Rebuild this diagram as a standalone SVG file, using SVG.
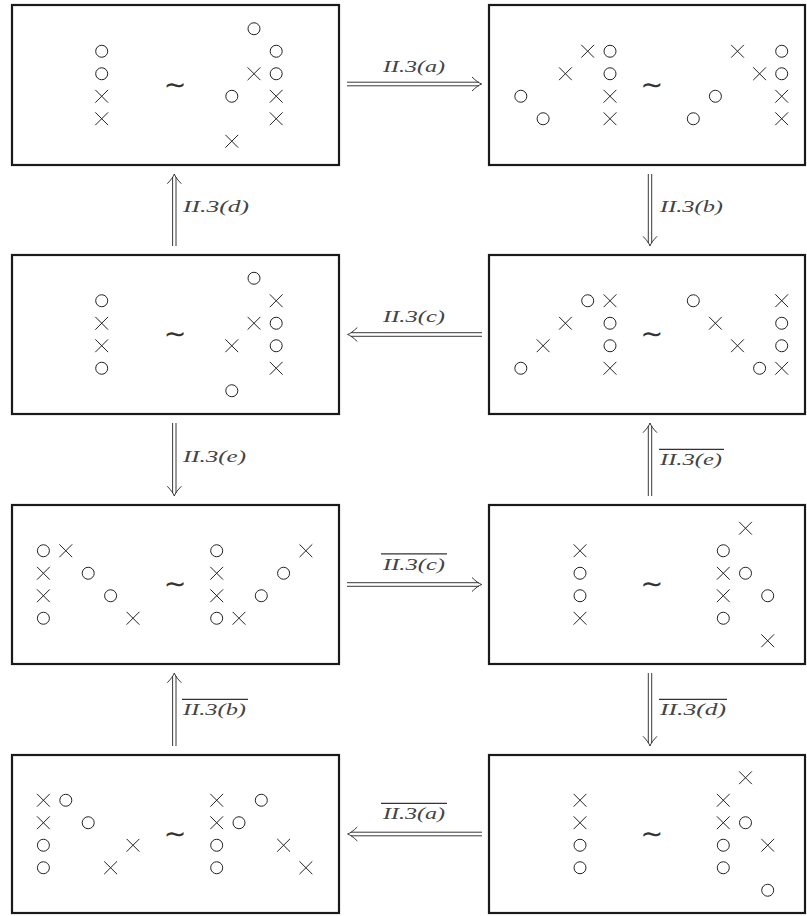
<svg xmlns="http://www.w3.org/2000/svg" xmlns:xlink="http://www.w3.org/1999/xlink" width="807" height="916" viewBox="0 0 807 916">
<style>
.box{fill:#fff;stroke:#1a1a1a;stroke-width:2.2}
.sym{fill:none;stroke:#222;stroke-width:1}
.tl{font-family:"DejaVu Sans",sans-serif;font-size:27px;fill:#333;text-anchor:middle}
.lb{font-family:"Liberation Serif",serif;font-style:italic;font-size:16px;fill:#444}
.ln{fill:none;stroke:#222;stroke-width:0.9}
.ov{stroke:#333;stroke-width:1.2}
</style>
<defs>
<circle id="o" class="sym" r="6"/>
<path id="x" class="sym" d="M-6.4-6.4L6.4 6.4M-6.4 6.4L6.4-6.4"/>
</defs>
<rect width="807" height="916" fill="#fff"/>

<g id="box1">
<rect class="box" x="12" y="5" width="327" height="160"/>
<use href="#o" x="101.7" y="51.25"/><use href="#o" x="101.7" y="73.75"/><use href="#x" x="101.7" y="96.25"/><use href="#x" x="101.7" y="118.75"/>
<text class="tl" x="175" y="93.6">∼</text>
<use href="#o" x="254" y="28.75"/><use href="#o" x="276.2" y="51.25"/><use href="#x" x="254" y="73.75"/><use href="#o" x="276.2" y="73.75"/>
<use href="#o" x="231.8" y="96.25"/><use href="#x" x="276.2" y="96.25"/><use href="#x" x="276.2" y="118.75"/><use href="#x" x="231.8" y="141.25"/>
</g>

<g id="box2">
<rect class="box" x="489" y="5" width="316" height="160"/>
<use href="#x" x="587.7" y="51.25"/><use href="#o" x="610" y="51.25"/><use href="#x" x="565.4" y="73.75"/><use href="#o" x="610" y="73.75"/>
<use href="#o" x="520.8" y="96.25"/><use href="#x" x="610" y="96.25"/><use href="#o" x="543.1" y="118.75"/><use href="#x" x="610" y="118.75"/>
<text class="tl" x="651.7" y="93.6">∼</text>
<use href="#x" x="737.5" y="51.25"/><use href="#o" x="781.7" y="51.25"/><use href="#x" x="759.6" y="73.75"/><use href="#o" x="781.7" y="73.75"/>
<use href="#o" x="715.4" y="96.25"/><use href="#x" x="781.7" y="96.25"/><use href="#o" x="693.3" y="118.75"/><use href="#x" x="781.7" y="118.75"/>
</g>

<g id="box3">
<rect class="box" x="12" y="255" width="327" height="159"/>
<use href="#o" x="101.7" y="300.75"/><use href="#x" x="101.7" y="323.25"/><use href="#x" x="101.7" y="345.75"/><use href="#o" x="101.7" y="368.25"/>
<text class="tl" x="175" y="343.1">∼</text>
<use href="#o" x="254" y="278.25"/><use href="#x" x="276.2" y="300.75"/><use href="#x" x="254" y="323.25"/><use href="#o" x="276.2" y="323.25"/>
<use href="#x" x="231.8" y="345.75"/><use href="#o" x="276.2" y="345.75"/><use href="#x" x="276.2" y="368.25"/><use href="#o" x="231.8" y="390.75"/>
</g>

<g id="box4">
<rect class="box" x="489" y="255" width="316" height="159"/>
<use href="#o" x="587.7" y="300.75"/><use href="#x" x="610" y="300.75"/><use href="#x" x="565.4" y="323.25"/><use href="#o" x="610" y="323.25"/>
<use href="#x" x="543.1" y="345.75"/><use href="#o" x="610" y="345.75"/><use href="#o" x="520.8" y="368.25"/><use href="#x" x="610" y="368.25"/>
<text class="tl" x="651.7" y="343.1">∼</text>
<use href="#o" x="693.3" y="300.75"/><use href="#x" x="781.7" y="300.75"/><use href="#x" x="715.4" y="323.25"/><use href="#o" x="781.7" y="323.25"/>
<use href="#x" x="737.5" y="345.75"/><use href="#o" x="781.7" y="345.75"/><use href="#o" x="759.6" y="368.25"/><use href="#x" x="781.7" y="368.25"/>
</g>

<g id="box5">
<rect class="box" x="12" y="505" width="327" height="159"/>
<use href="#o" x="43.4" y="550.75"/><use href="#x" x="65.8" y="550.75"/><use href="#x" x="43.4" y="573.25"/><use href="#o" x="88.2" y="573.25"/>
<use href="#x" x="43.4" y="595.75"/><use href="#o" x="110.6" y="595.75"/><use href="#o" x="43.4" y="618.25"/><use href="#x" x="133" y="618.25"/>
<text class="tl" x="175" y="593.1">∼</text>
<use href="#o" x="216.7" y="550.75"/><use href="#x" x="305.9" y="550.75"/><use href="#x" x="216.7" y="573.25"/><use href="#o" x="283.6" y="573.25"/>
<use href="#x" x="216.7" y="595.75"/><use href="#o" x="261.3" y="595.75"/><use href="#o" x="216.7" y="618.25"/><use href="#x" x="239" y="618.25"/>
</g>

<g id="box6">
<rect class="box" x="489" y="505" width="316" height="159"/>
<use href="#x" x="580" y="550.75"/><use href="#o" x="580" y="573.25"/><use href="#o" x="580" y="595.75"/><use href="#x" x="580" y="618.25"/>
<text class="tl" x="651.7" y="593.1">∼</text>
<use href="#x" x="745.5" y="528.25"/><use href="#o" x="723.3" y="550.75"/><use href="#x" x="723.3" y="573.25"/><use href="#o" x="745.5" y="573.25"/>
<use href="#x" x="723.3" y="595.75"/><use href="#o" x="767.7" y="595.75"/><use href="#o" x="723.3" y="618.25"/><use href="#x" x="767.7" y="640.75"/>
</g>

<g id="box7">
<rect class="box" x="12" y="755" width="327" height="158"/>
<use href="#x" x="43.4" y="800.25"/><use href="#o" x="65.8" y="800.25"/><use href="#x" x="43.4" y="822.75"/><use href="#o" x="88.2" y="822.75"/>
<use href="#o" x="43.4" y="845.25"/><use href="#x" x="133" y="845.25"/><use href="#o" x="43.4" y="867.75"/><use href="#x" x="110.6" y="867.75"/>
<text class="tl" x="175" y="842.6">∼</text>
<use href="#x" x="216.7" y="800.25"/><use href="#o" x="261.3" y="800.25"/><use href="#x" x="216.7" y="822.75"/><use href="#o" x="239" y="822.75"/>
<use href="#o" x="216.7" y="845.25"/><use href="#x" x="283.6" y="845.25"/><use href="#o" x="216.7" y="867.75"/><use href="#x" x="305.9" y="867.75"/>
</g>

<g id="box8">
<rect class="box" x="489" y="755" width="316" height="158"/>
<use href="#x" x="580" y="800.25"/><use href="#x" x="580" y="822.75"/><use href="#o" x="580" y="845.25"/><use href="#o" x="580" y="867.75"/>
<text class="tl" x="651.7" y="842.6">∼</text>
<use href="#x" x="745.5" y="777.75"/><use href="#x" x="723.3" y="800.25"/><use href="#x" x="723.3" y="822.75"/><use href="#o" x="745.5" y="822.75"/>
<use href="#o" x="723.3" y="845.25"/><use href="#x" x="767.7" y="845.25"/><use href="#o" x="723.3" y="867.75"/><use href="#o" x="767.7" y="890.25"/>
</g>

<g id="connectors">
<path class="ln" d="M347 82.2H479M347 85.8H479M472 77Q478 82.8 481.7 84Q478 85.2 472 91"/>
<text class="lb" x="383" y="72" textLength="62" lengthAdjust="spacingAndGlyphs">II.3(a)</text>
<path class="ln" d="M351 332.7H482M351 336.3H482M357.3 327.5Q351.3 333.3 347.6 334.5Q351.3 335.7 357.3 341.5"/>
<text class="lb" x="383" y="322" textLength="62" lengthAdjust="spacingAndGlyphs">II.3(c)</text>
<path class="ln" d="M347 582.7H479M347 586.3H479M472 577.5Q478 583.3 481.7 584.5Q478 585.7 472 591.5"/>
<line class="ov" x1="381" y1="553.8" x2="447" y2="553.8"/>
<text class="lb" x="383" y="569.8" textLength="62" lengthAdjust="spacingAndGlyphs">II.3(c)</text>
<path class="ln" d="M351 832.2H482M351 835.8H482M357.3 827Q351.3 832.8 347.6 834Q351.3 835.2 357.3 841"/>
<line class="ov" x1="381" y1="803.3" x2="447" y2="803.3"/>
<text class="lb" x="383" y="819.3" textLength="62" lengthAdjust="spacingAndGlyphs">II.3(a)</text>

<path class="ln" d="M172.6 177V246M176 177V246M167.3 183.7Q173.1 177.7 174.3 174Q175.5 177.7 181.3 183.7"/>
<text class="lb" x="183" y="211.7" textLength="66" lengthAdjust="spacingAndGlyphs">II.3(d)</text>
<path class="ln" d="M648.3 174V243M651.7 174V243M643 236.3Q648.8 242.3 650 246Q651.2 242.3 657 236.3"/>
<text class="lb" x="660" y="211.7" textLength="63" lengthAdjust="spacingAndGlyphs">II.3(b)</text>
<path class="ln" d="M172.6 423V493M176 423V493M167.3 486.3Q173.1 492.3 174.3 496Q175.5 492.3 181.3 486.3"/>
<text class="lb" x="183" y="461.5" textLength="63" lengthAdjust="spacingAndGlyphs">II.3(e)</text>
<path class="ln" d="M648.3 426V496M651.7 426V496M643 432.7Q648.8 426.7 650 423Q651.2 426.7 657 432.7"/>
<line class="ov" x1="659" y1="449.3" x2="724" y2="449.3"/>
<text class="lb" x="660" y="465" textLength="62" lengthAdjust="spacingAndGlyphs">II.3(e)</text>
<path class="ln" d="M172.6 676V746M176 676V746M167.3 682.7Q173.1 676.7 174.3 673Q175.5 676.7 181.3 682.7"/>
<line class="ov" x1="182" y1="699.3" x2="248" y2="699.3"/>
<text class="lb" x="183" y="715" textLength="63" lengthAdjust="spacingAndGlyphs">II.3(b)</text>
<path class="ln" d="M648.3 673V743M651.7 673V743M643 736.3Q648.8 742.3 650 746Q651.2 742.3 657 736.3"/>
<line class="ov" x1="659" y1="699.3" x2="727" y2="699.3"/>
<text class="lb" x="660" y="715" textLength="66" lengthAdjust="spacingAndGlyphs">II.3(d)</text>
</g>
</svg>
